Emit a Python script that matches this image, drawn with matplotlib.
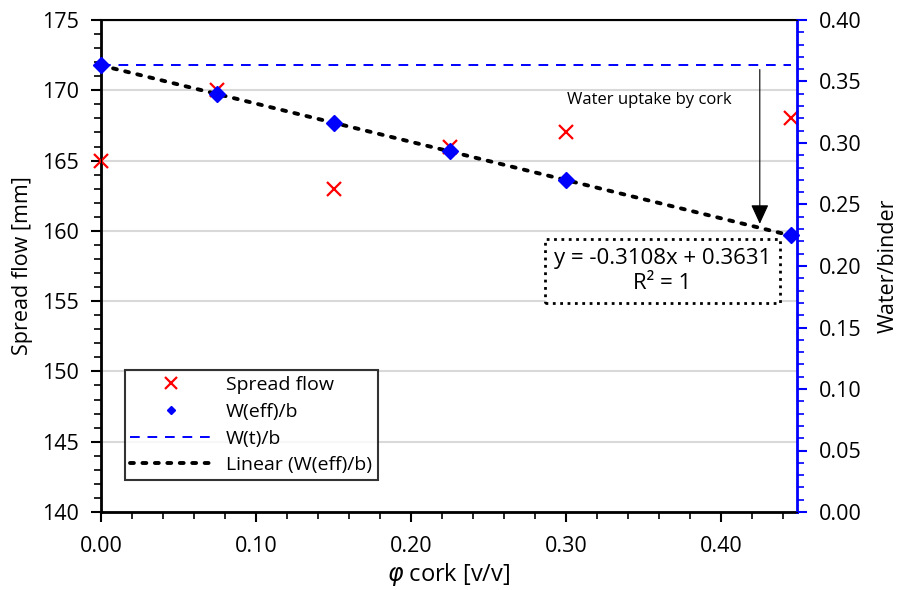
import numpy as np
import matplotlib.pyplot as plt
from matplotlib.lines import Line2D
from matplotlib.ticker import MultipleLocator, FormatStrFormatter

plt.rcParams['font.family'] = ['Open Sans', 'DejaVu Sans']

# Données
phi_cork = [0.0, 0.075, 0.15, 0.225, 0.30, 0.445]
spread_flow = [165, 170, 163, 166, 167, 168]
w_eff_b = [0.3631, 0.3398, 0.3165, 0.2932, 0.2699, 0.2248]
w_t_x = [0.0, 0.445]
w_t_b = [0.3631, 0.3631]
slope, intercept = -0.3108, 0.3631

fig = plt.figure(figsize=(9.02, 5.90), dpi=100)
ax = fig.add_axes([101 / 902, 78 / 590, 696 / 902, 492 / 590])
ax2 = ax.twinx()

# Axe gauche : spread flow
ax.plot(phi_cork, spread_flow, linestyle='none', marker='x', color='red',
        markersize=10, markeredgewidth=1.6, zorder=3, clip_on=False)
ax.set_xlim(0, 0.449)
ax.set_ylim(140, 175)
ax.yaxis.set_major_locator(MultipleLocator(5))
ax.yaxis.set_minor_locator(MultipleLocator(1))
ax.xaxis.set_major_locator(MultipleLocator(0.1))
ax.xaxis.set_minor_locator(MultipleLocator(0.02))
ax.xaxis.set_major_formatter(FormatStrFormatter('%.2f'))
ax.grid(axis='y', color='#d9d9d9', linewidth=1.5)
ax.set_axisbelow(True)
ax.tick_params(axis='both', which='major', length=7, width=1.5, labelsize=15.5, pad=9)
ax.tick_params(axis='both', which='minor', length=5, width=1.2)
ax.tick_params(axis='x', which='major', pad=10)
for s in ['left', 'bottom']:
    ax.spines[s].set_linewidth(2)
ax.spines['top'].set_linewidth(1.5)
ax.set_ylabel('Spread flow [mm]', fontsize=15.5, labelpad=6)
ax.set_xlabel(r'$\varphi$ cork [v/v]', fontsize=17, labelpad=3)

# Axe droit : water/binder
xt = np.array(w_t_x)
ax2.plot(xt, w_t_b, linestyle=(0, (5, 4)), color='blue', linewidth=1.4, zorder=2)
xl = np.array([phi_cork[0], phi_cork[-1]])
ax2.plot(xl, slope * xl + intercept, linestyle=(0, (1, 2.2)), color='black',
         linewidth=2.8, dash_capstyle='round', zorder=3)
ax2.plot(phi_cork, w_eff_b, linestyle='none', marker='D', color='blue',
         markersize=8.5, zorder=4, clip_on=False)
ax2.set_ylim(0, 0.40)
ax2.yaxis.set_major_locator(MultipleLocator(0.05))
ax2.yaxis.set_minor_locator(MultipleLocator(0.01))
ax2.yaxis.set_major_formatter(FormatStrFormatter('%.2f'))
ax2.spines['right'].set_color('blue')
ax2.spines['right'].set_linewidth(2)
ax2.tick_params(axis='y', which='major', length=7, width=1.5, color='blue',
                labelsize=15.5, pad=9)
ax2.tick_params(axis='y', which='minor', length=5, width=1.2, color='blue')
ax2.set_ylabel('Water/binder', fontsize=15.5, labelpad=11)

# Annotation
ax2.annotate('', xy=(0.425, 0.232), xytext=(0.425, 0.362),
             arrowprops=dict(arrowstyle='-|>,head_length=1.2,head_width=0.55',
                             color='black', lw=0.8))
ax2.text(0.354, 0.335, 'Water uptake by cork', ha='center', va='center', fontsize=12)
ax2.text(0.362, 0.196, 'y = -0.3108x + 0.3631\nR² = 1', ha='center', va='center',
         fontsize=16, linespacing=1.3,
         bbox=dict(boxstyle='square,pad=0.4', facecolor='white', edgecolor='black',
                   linestyle=':', linewidth=2))

# Légende
handles = [
    Line2D([], [], linestyle='none', marker='x', color='red', markersize=9,
           markeredgewidth=1.6),
    Line2D([], [], linestyle='none', marker='D', color='blue', markersize=4.5),
    Line2D([], [], linestyle=(0, (5, 4)), color='blue', linewidth=1.4),
    Line2D([], [], linestyle=(0, (1, 2.2)), color='black', linewidth=2.8,
           dash_capstyle='round'),
]
labels = ['Spread flow', 'W(eff)/b', 'W(t)/b', 'Linear (W(eff)/b)']
leg = ax2.legend(handles, labels, loc='lower left', bbox_to_anchor=(0.02, 0.045),
                 fontsize=14, frameon=True, fancybox=False, handlelength=4.2,
                 handletextpad=0.7, borderpad=0.3, labelspacing=0.45)
leg.get_frame().set_edgecolor('black')
leg.get_frame().set_linewidth(1.5)

plt.savefig('out.png', dpi=100)
